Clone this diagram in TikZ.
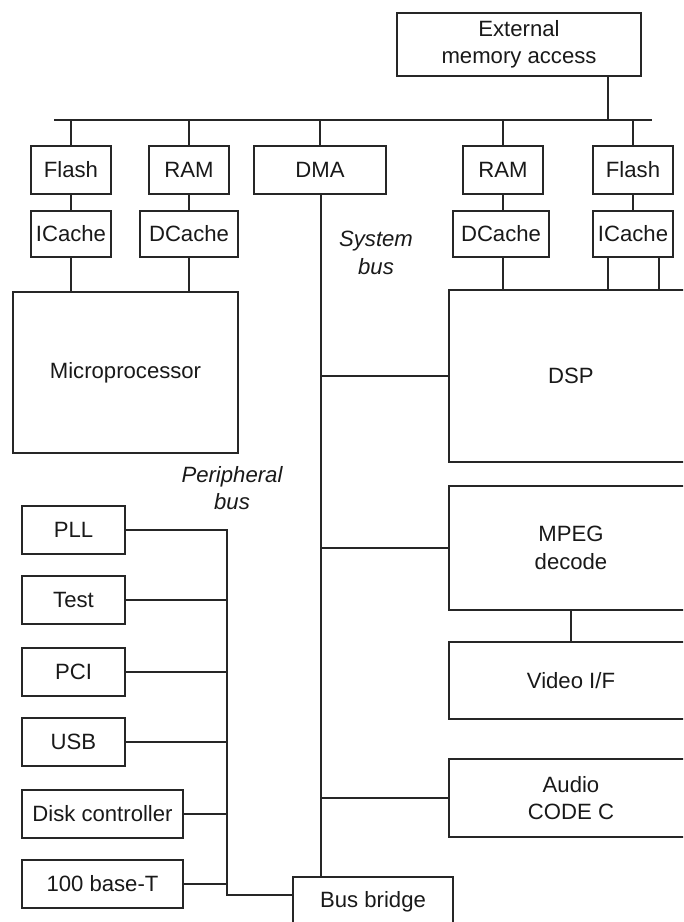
\documentclass[tikz,border=0pt]{standalone}
\usepackage{fontspec}
\setmainfont{Liberation Sans}
\usetikzlibrary{calc}
\begin{document}
\begin{tikzpicture}[x=0.75pt,y=-0.75pt,
  every node/.style={font=\fontsize{16.6}{20.5}\selectfont, text=black!90},
  blk/.style 2 args={draw=black!85, line width=1.3pt, inner sep=0pt, align=center,
    minimum width=#1*0.75pt, minimum height=#2*0.75pt},
  wire/.style={draw=black!85, line width=1.3pt},
  buslabel/.style={font=\fontsize{16.6}{20.5}\selectfont\itshape, align=center}]
\useasboundingbox (0,0) rectangle (683,922);
\clip (0,0) rectangle (683,922);

% memory interface
\node[blk={244}{63}] (ext) at (519,44.5) {External\\memory access};
\coordinate (busL) at (54,120);
\coordinate (busR) at (652,120);
\draw[wire] (busL) -- (busR);

% upper row: local memories and DMA
\node[blk={80}{48}] (flashL) at (71,170) {Flash};
\node[blk={80}{48}] (ramL) at (189,170) {RAM};
\node[blk={132}{48}] (dma) at (320,170) {DMA};
\node[blk={80}{48}] (ramR) at (503,170) {RAM};
\node[blk={80}{48}] (flashR) at (633,170) {Flash};

% caches
\node[blk={80}{46}] (icL) at (71,234) {ICache};
\node[blk={98}{46}] (dcL) at (189,234) {DCache};
\node[blk={96}{46}] (dcR) at (501,234) {DCache};
\node[blk={80}{46}] (icR) at (633,234) {ICache};

% processors and media blocks
\node[blk={225}{161}] (cpu) at (125.5,372.5) {Microprocessor};
\node[blk={244}{172}] (dsp) at (571,376) {DSP};
\node[blk={244}{124}] (mpeg) at (571,548) {MPEG\\decode};
\node[blk={244}{77}] (video) at (571,680.5) {Video I/F};
\node[blk={244}{78}] (audio) at (571,798) {Audio\\CODE C};
\node[blk={160}{50}] (bb) at (373,902) {Bus bridge};

% peripherals
\node[blk={103}{48}] (pll) at (73.5,530) {PLL};
\node[blk={103}{48}] (test) at (73.5,600) {Test};
\node[blk={103}{48}] (pci) at (73.5,672) {PCI};
\node[blk={103}{48}] (usb) at (73.5,742) {USB};
\node[blk={161}{48}] (disk) at (102.5,814) {Disk controller};
\node[blk={161}{48}] (eth) at (102.5,884) {100 base-T};

% bus labels
\node[buslabel] (sysbus) at (376,253) {System\\bus};
\node[buslabel] (perbus) at (232,488) {Peripheral\\bus};

% external access to memory bus
\coordinate (extTap) at ($(ext.south)+(89,0)$);
\draw[wire] (extTap) -- (extTap |- busL);

% memory bus drops
\foreach \n in {flashL,ramL,dma,ramR,flashR}
  \draw[wire] (\n.north) -- (\n.north |- busL);

% memory to cache to core
\draw[wire] (flashL.south) -- (flashL.south |- icL.north);
\draw[wire] (ramL.south) -- (ramL.south |- dcL.north);
\draw[wire] (ramR.south) -- (ramR.south |- dcR.north);
\draw[wire] (flashR.south) -- (flashR.south |- icR.north);
\draw[wire] (icL.south) -- (icL.south |- cpu.north);
\draw[wire] (ramL.south |- dcL.south) -- (ramL.south |- cpu.north);
\draw[wire] (ramR.south |- dcR.south) -- (ramR.south |- dsp.north);
\coordinate (icTapA) at ($(icR.south)+(-25,0)$);
\coordinate (icTapB) at ($(icR.south)+(26,0)$);
\draw[wire] (icTapA) -- (icTapA |- dsp.north);
\draw[wire] (icTapB) -- (icTapB |- dsp.north);

% system bus
\coordinate (sysTop) at ($(dma.south)+(1,0)$);
\draw[wire] (sysTop) -- (sysTop |- bb.north);
\draw[wire] (sysTop |- dsp.west) -- (dsp.west);
\draw[wire] (sysTop |- mpeg.west) -- (mpeg.west);
\draw[wire] (sysTop |- audio.west) -- (audio.west);
\draw[wire] (mpeg.south) -- (video.north);

% peripheral bus
\coordinate (pbTop) at (227,530);
\coordinate (pbEnd) at (227,895);
\draw[wire] (pll.east) -- (pbTop) -- (pbEnd) -- (pbEnd -| bb.west);
\foreach \n in {test,pci,usb,disk,eth}
  \draw[wire] (\n.east) -- (\n.east -| pbTop);
\end{tikzpicture}
\end{document}
